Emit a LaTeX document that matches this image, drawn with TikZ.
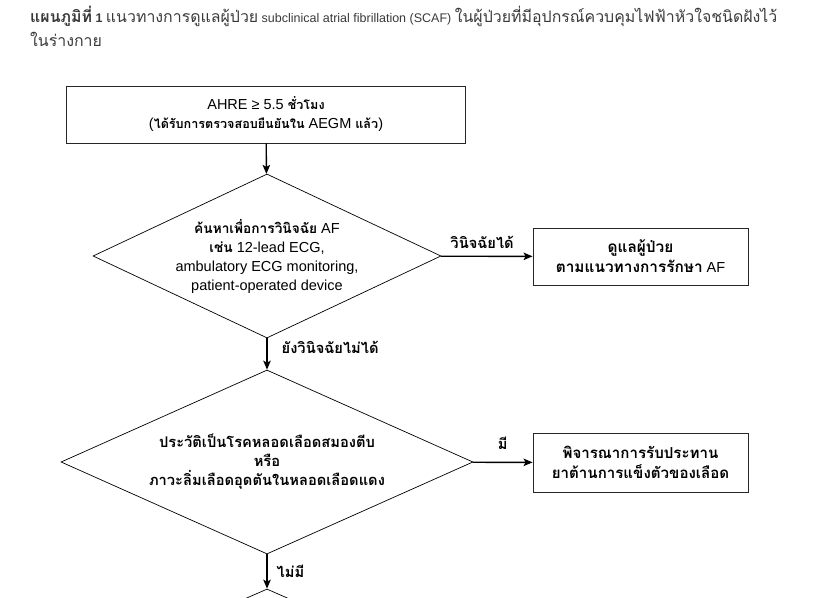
\documentclass[tikz,border=0pt]{standalone}
\usepackage{fontspec}
\setmainfont{Liberation Sans}
\newfontfamily\thaifont[Script=Thai]{Loma}
\newcommand\thsize{12.5}
\newcommand\tf[1]{{\thaifont\bfseries\fontsize{\thsize}{19}\selectfont #1}}
\newcommand\tfr[1]{{\thaifont\fontsize{15.9}{19}\selectfont #1}}
\usetikzlibrary{shapes.geometric,arrows.meta}
\definecolor{titlegray}{HTML}{3A3A3A}

\begin{document}
\begin{tikzpicture} [x=1pt, y=-1pt,
            every node/.style={font=\fontsize{14.5}{19}\selectfont, align=center, inner sep=0pt},
            thai/.style={execute at begin node={\def\thsize{#1}}},
            box/.style={rectangle, draw=black!85, line width=0.9pt},
            choice/.style={diamond, draw=black, line width=0.7pt},
            edge_style/.style={draw=black, line width=1.4pt, -{Stealth[length=9pt,width=7.5pt,inset=2pt]}},
            lbl/.style={thai=14.7, font=\fontsize{14.5}{15}\selectfont}]
            \useasboundingbox (0,0) rectangle (813,597);
            \node[anchor=base west, text=titlegray, font=\fontsize{12.5}{16}\selectfont] (t1) at (30,22)
                {\textbf{\tfr{\bfseries แผนภูมิที่} 1} \tfr{แนวทางการดูแลผู้ป่วย} subclinical atrial fibrillation (SCAF) \tfr{ในผู้ป่วยที่มีอุปกรณ์ควบคุมไฟฟ้าหัวใจชนิดฝังไว้}};
            \node[anchor=base west, text=titlegray, font=\fontsize{12.5}{16}\selectfont] (t2) at (30,46) {\tfr{ในร่างกาย}};
            \node[box, thai=12.6, minimum width=399pt, minimum height=57pt] (ahre) at (266,114.5)
                {AHRE ≥ 5.5 \tf{ชั่วโมง}\\(\tf{ได้รับการตรวจสอบยืนยันใน} AEGM \tf{แล้ว})};
            \node[choice, thai=13.7, shape aspect=2.12, minimum width=348pt, minimum height=164pt] (search) at (267,256)
                {\tf{ค้นหาเพื่อการวินิจฉัย} AF\\\tf{เช่น} 12-lead ECG,\\ambulatory ECG monitoring,\\patient-operated device};
            \node[box, thai=15.4, font=\fontsize{14.5}{20}\selectfont, minimum width=215pt, minimum height=57pt] (care) at (640.5,256.5)
                {\tf{ดูแลผู้ป่วย}\\\tf{ตามแนวทางการรักษา} AF};
            \node[choice, thai=14.7, shape aspect=2.24, minimum width=412pt, minimum height=184pt] (history) at (267,462)
                {\tf{ประวัติเป็นโรคหลอดเลือดสมองตีบ}\\\tf{หรือ}\\\tf{ภาวะลิ่มเลือดอุดตันในหลอดเลือดแดง}};
            \node[box, thai=15.1, font=\fontsize{14.5}{20}\selectfont, minimum width=215pt, minimum height=59pt] (anticoag) at (640.5,462.5)
                {\tf{พิจารณาการรับประทาน}\\\tf{ยาต้านการแข็งตัวของเลือด}};
            \node[choice, shape aspect=2.3, minimum width=412pt, minimum height=180pt] (next) at (267,679) {};
            \draw[edge_style] (ahre) -- (search);
            \draw[edge_style] (search) -- (care) node[lbl, pos=0.45, above=7pt] {\tf{วินิจฉัยได้}};
            \draw[edge_style] (search) -- (history) node[lbl, pos=0.3, right=14pt] {\tf{ยังวินิจฉัยไม่ได้}};
            \draw[edge_style] (history) -- (anticoag) node[lbl, pos=0.5, above=12pt] {\tf{มี}};
            \draw[edge_style] (history) -- (next) node[lbl, midway, right=9pt] {\tf{ไม่มี}};
        \end{tikzpicture}
\end{document}
